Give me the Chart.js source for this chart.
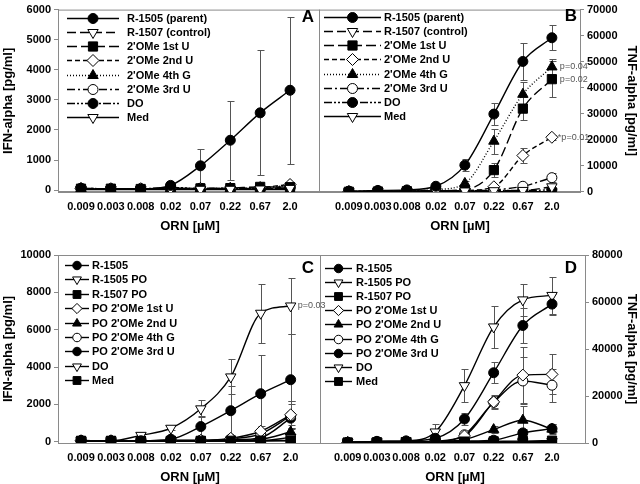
<!DOCTYPE html>
<html>
<head>
<meta charset="utf-8">
<script src="https://cdn.jsdelivr.net/npm/chart.js@4.4.1/dist/chart.umd.min.js"></script>
<style>
  html, body { margin: 0; padding: 0; background: #fff; }
  #wrap { position: relative; width: 640px; height: 484px; }
  #wrap canvas { position: absolute; left: 0; top: 0; }
</style>
</head>
<body>
<div id="wrap">
  <canvas id="chartA" width="640" height="484"></canvas>
  <canvas id="chartB" width="640" height="484"></canvas>
  <canvas id="chartC" width="640" height="484"></canvas>
  <canvas id="chartD" width="640" height="484"></canvas>
</div>
<script>
// ORN doses (x categories)
const doses = ['0.009', '0.003', '0.008', '0.02', '0.07', '0.22', '0.67', '2.0'];

// y tick labels
const ifnTicksTop = [0, 1000, 2000, 3000, 4000, 5000, 6000];
const tnfTicksTop = [0, 10000, 20000, 30000, 40000, 50000, 60000, 70000];
const ifnTicksBottom = [0, 2000, 4000, 6000, 8000, 10000];
const tnfTicksBottom = [0, 20000, 40000, 60000, 80000];

const namesTop = ['R-1505 (parent)', 'R-1507 (control)', "2'OMe 1st U", "2'OMe 2nd U", "2'OMe 4th G", "2'OMe 3rd U", 'DO', 'Med'];
const namesBottom = ['R-1505', 'R-1505 PO', 'R-1507 PO', "PO 2'OMe 1st U", "PO 2'OMe 2nd U", "PO 2'OMe 4th G", "PO 2'OMe 3rd U", 'DO', 'Med'];

// panel A - IFN-alpha [pg/ml]
const aParent   = [60, 40, 40, 160, 810, 1660, 2570, 3320];
const aParentErr = [0, 0, 0, 40, 560, 1310, 2080, 2440];
const aControl  = [40, 30, 30, 40, 30, 30, 40, 60];
const aFirstU   = [50, 50, 40, 60, 60, 70, 110, 100];
const aSecondU  = [60, 50, 50, 60, 60, 60, 90, 190];
const aSecondUErr = [0, 0, 0, 0, 0, 0, 0, 80];
const aFourthG  = [50, 40, 40, 50, 50, 60, 70, 170];
const aFourthGErr = [0, 0, 0, 0, 0, 0, 0, 60];
const aThirdU   = [50, 40, 40, 60, 50, 50, 60, 100];
const aDO       = [60, 50, 50, 90, 60, 60, 60, 60];
const aMed      = [20, 20, 20, 20, 20, 20, 20, 20];

// panel B - TNF-alpha [pg/ml]
const bParent   = [300, 600, 800, 2200, 10300, 29900, 50100, 59200];
const bParentErr = [0, 200, 200, 500, 2400, 4300, 7200, 4800];
const bControl  = [100, 200, 300, 300, 400, 500, 600, 2000];
const bFirstU   = [100, 200, 300, 500, 900, 8400, 32000, 43300];
const bFirstUErr = [0, 0, 0, 0, 300, 2600, 4300, 6800];
const bSecondU  = [100, 200, 300, 400, 600, 2000, 14000, 21000];
const bSecondUErr = [0, 0, 0, 0, 0, 500, 2700, 1000];
const bFourthG  = [100, 300, 400, 900, 3300, 19500, 37500, 48000];
const bFourthGErr = [0, 0, 0, 0, 800, 4800, 4600, 3000];
const bThirdU   = [100, 200, 300, 400, 500, 800, 2200, 5500];
const bThirdUErr = [0, 0, 0, 0, 0, 0, 500, 1800];
const bDO       = [300, 300, 400, 500, 500, 600, 600, 800];
const bMed      = [100, 100, 100, 100, 100, 100, 100, 100];

// panel C - IFN-alpha [pg/ml]
const cParent   = [60, 50, 50, 130, 810, 1660, 2570, 3320];
const cParentErr = [0, 0, 0, 40, 560, 1310, 2080, 2440];
const cParentPO = [60, 50, 340, 720, 1760, 3470, 6880, 7270];
const cParentPOErr = [0, 0, 60, 100, 460, 940, 1570, 1520];
const cControlPO = [40, 40, 40, 40, 40, 50, 60, 60];
const cFirstU   = [50, 50, 50, 60, 70, 180, 560, 1440];
const cFirstUErr = [0, 0, 0, 0, 0, 100, 280, 760];
const cSecondU  = [40, 40, 40, 50, 50, 70, 130, 520];
const cSecondUErr = [0, 0, 0, 0, 0, 0, 0, 200];
const cFourthG  = [50, 50, 50, 60, 70, 150, 420, 1380];
const cFourthGErr = [0, 0, 0, 0, 0, 0, 250, 650];
const cThirdU   = [50, 50, 50, 60, 60, 100, 220, 1260];
const cThirdUErr = [0, 0, 0, 0, 0, 0, 150, 900];
const cDO       = [40, 40, 40, 40, 40, 40, 50, 230];
const cMed      = [40, 40, 40, 40, 40, 40, 40, 50];

// panel D - TNF-alpha [pg/ml]
const dParent   = [300, 700, 900, 2000, 10200, 29900, 50000, 59100];
const dParentErr = [0, 0, 0, 500, 2400, 4400, 7300, 4500];
const dParentPO = [300, 700, 900, 4700, 24400, 49400, 60900, 62800];
const dParentPOErr = [0, 0, 0, 3300, 7100, 8800, 6800, 8000];
const dControlPO = [200, 300, 400, 500, 600, 700, 800, 1000];
const dFirstU   = [200, 300, 500, 800, 3000, 17500, 28900, 29200];
const dFirstUErr = [0, 0, 0, 0, 800, 2500, 12000, 8500];
const dSecondU  = [200, 300, 400, 600, 1500, 5700, 9700, 5900];
const dSecondUErr = [0, 0, 0, 0, 0, 1500, 6000, 2000];
const dFourthG  = [200, 300, 400, 700, 3500, 17300, 26400, 24600];
const dFourthGErr = [0, 0, 0, 0, 1000, 3000, 10000, 7000];
const dThirdU   = [200, 300, 400, 500, 800, 1200, 4300, 6100];
const dThirdUErr = [0, 0, 0, 0, 0, 0, 1500, 2000];
const dDO       = [100, 200, 300, 300, 400, 500, 500, 600];
const dMed      = [100, 100, 100, 100, 100, 100, 100, 100];

const axisColor = '#8a8a8a';
const fontFamily = '"Liberation Sans", Arial, Helvetica, sans-serif';
Chart.defaults.font.family = fontFamily;
Chart.defaults.color = '#000';

// line/marker styles
const stylesTop = [
  { dash: [], point: 'circle', fill: true, r: 5 },
  { dash: [9, 4], point: 'triangle', fill: false, rot: 180, r: 6 },
  { dash: [10, 4], point: 'rect', fill: true, r: 6.5 },
  { dash: [5, 3], point: 'rectRot', fill: false, r: 6 },
  { dash: [1, 2], point: 'triangle', fill: true, r: 6 },
  { dash: [8, 3, 2, 3], point: 'circle', fill: false, r: 5 },
  { dash: [8, 2, 2, 2, 2, 2], point: 'circle', fill: true, r: 5 },
  { dash: [], point: 'triangle', fill: false, rot: 180, r: 6 }
];
const stylesBottom = [
  { dash: [], point: 'circle', fill: true, r: 5 },
  { dash: [], point: 'triangle', fill: false, rot: 180, r: 6 },
  { dash: [], point: 'rect', fill: true, r: 6.5 },
  { dash: [], point: 'rectRot', fill: false, r: 6 },
  { dash: [], point: 'triangle', fill: true, r: 6 },
  { dash: [], point: 'circle', fill: false, r: 5 },
  { dash: [], point: 'circle', fill: true, r: 5 },
  { dash: [], point: 'triangle', fill: false, rot: 180, r: 6 },
  { dash: [], point: 'rect', fill: true, r: 6.5 }
];

// error bars drawn under the lines
const errorBars = {
  id: 'errorBars',
  beforeDatasetsDraw(chart) {
    const { ctx, scales: { x, y } } = chart;
    ctx.save();
    ctx.strokeStyle = '#555';
    ctx.lineWidth = 1;
    chart.data.datasets.forEach(ds => {
      if (!ds.errors) return;
      ds.errors.forEach((e, i) => {
        if (!e) return;
        const v = ds.data[i].y;
        const px = Math.round(x.getPixelForValue(i)) + 0.5;
        const top = Math.round(y.getPixelForValue(v + e)) + 0.5;
        const bot = Math.round(y.getPixelForValue(Math.max(v - e, y.min))) + 0.5;
        ctx.beginPath();
        ctx.moveTo(px, top); ctx.lineTo(px, bot);
        ctx.moveTo(px - 3, top); ctx.lineTo(px + 4, top);
        ctx.moveTo(px - 3, bot); ctx.lineTo(px + 4, bot);
        ctx.stroke();
      });
    });
    ctx.restore();
  }
};

// legend with line sample and marker
const sketchLegend = {
  id: 'sketchLegend',
  afterDraw(chart, args, opts) {
    if (opts.x == null) return;
    const ctx = chart.ctx;
    ctx.save();
    ctx.font = 'bold 11px ' + fontFamily;
    ctx.textBaseline = 'middle';
    chart.data.datasets.forEach((ds, i) => {
      const yy = Math.round(opts.y + i * opts.dy) + 0.5;
      ctx.strokeStyle = '#000';
      ctx.lineWidth = 1.4;
      ctx.setLineDash(ds.borderDash || []);
      ctx.beginPath();
      ctx.moveTo(opts.x, yy);
      ctx.lineTo(opts.x + opts.len, yy);
      ctx.stroke();
      ctx.setLineDash([]);
      ctx.fillStyle = ds.pointBackgroundColor;
      ctx.strokeStyle = '#000';
      ctx.lineWidth = 1;
      Chart.helpers.drawPoint(ctx, {
        pointStyle: ds.pointStyle, rotation: ds.pointRotation,
        radius: ds.pointRadius * opts.scale, borderWidth: 1
      }, opts.x + opts.len / 2, yy);
      ctx.fillStyle = '#000';
      ctx.fillText(ds.label, opts.textX, yy + 0.5);
    });
    ctx.restore();
  }
};

// frame, panel letter, x title, p-values
const notes = {
  id: 'notes',
  afterDraw(chart, args, opts) {
    const { ctx, chartArea: a, scales: { x, y } } = chart;
    ctx.save();
    ctx.strokeStyle = axisColor;
    ctx.lineWidth = 1;
    ctx.strokeRect(a.left + 0.5, a.top + 0.5, a.right - a.left, a.bottom - a.top);
    ctx.fillStyle = '#000';
    ctx.textAlign = 'center';
    ctx.textBaseline = 'middle';
    ctx.font = 'bold 17px ' + fontFamily;
    ctx.fillText(opts.letter, opts.letterX, opts.letterY);
    ctx.font = 'bold 13px ' + fontFamily;
    ctx.fillText('ORN [µM]', opts.titleX, opts.titleY);
    ctx.font = '9px ' + fontFamily;
    ctx.fillStyle = '#555';
    ctx.textAlign = 'left';
    (opts.pvals || []).forEach(p => {
      ctx.fillText(p.text, x.getPixelForValue(p.i) + p.dx, y.getPixelForValue(p.v));
    });
    ctx.restore();
  }
};

function lineStyle(st) {
  return {
    borderColor: '#000', borderWidth: 1.4, borderDash: st.dash,
    pointStyle: st.point, pointRotation: st.rot || 0, pointRadius: st.r,
    pointBackgroundColor: st.fill ? '#000' : '#fff', pointBorderColor: '#000',
    pointBorderWidth: 1, cubicInterpolationMode: 'monotone', fill: false
  };
}

function buildChart(id, p) {
  const yLeft = p.yPos === 'left';
  const yWidth = yLeft ? p.area.left : 640 - p.area.right;
  return new Chart(document.getElementById(id), {
    type: 'line',
    data: {
      datasets: p.series.map((vals, k) => Object.assign({
        label: p.names[k],
        data: vals.map((v, i) => ({ x: i, y: v })),
        errors: p.errors[k]
      }, lineStyle(p.styles[k])))
    },
    options: {
      responsive: false,
      animation: false,
      devicePixelRatio: 1,
      layout: {
        autoPadding: false,
        padding: {
          left: yLeft ? 0 : p.area.left,
          right: yLeft ? 640 - p.area.right : 0,
          top: p.area.top,
          bottom: 484 - p.area.bottom - p.xHeight
        }
      },
      plugins: {
        legend: { display: false },
        tooltip: { enabled: false },
        sketchLegend: p.legend,
        notes: p.notes
      },
      scales: {
        x: {
          type: 'linear', min: p.xMin, max: p.xMax,
          afterBuildTicks: s => { s.ticks = doses.map((_, i) => ({ value: i })); },
          afterFit: s => { s.height = p.xHeight; },
          ticks: { callback: v => doses[v], font: { size: 11, weight: 'bold' }, padding: 8, maxRotation: 0, autoSkip: false },
          grid: { display: false, drawTicks: false },
          border: { color: axisColor }
        },
        y: {
          position: p.yPos, min: p.yMin, max: p.yMax,
          afterBuildTicks: s => { s.ticks = p.yTicks.map(v => ({ value: v })); },
          afterFit: s => { s.width = yWidth; },
          ticks: { callback: v => String(v), font: { size: 11, weight: 'bold' }, padding: 3, autoSkip: false },
          grid: { drawOnChartArea: false, tickLength: 4, color: axisColor },
          border: { color: axisColor },
          title: { display: true, text: p.yTitle, font: { size: 13, weight: 'bold' }, padding: { top: 1, bottom: 0 } }
        }
      }
    },
    plugins: [errorBars, sketchLegend, notes]
  });
}

buildChart('chartA', {
  names: namesTop, styles: stylesTop,
  series: [aParent, aControl, aFirstU, aSecondU, aFourthG, aThirdU, aDO, aMed],
  errors: [aParentErr, null, null, aSecondUErr, aFourthGErr, null, null, null],
  area: { left: 58, top: 5, right: 319, bottom: 192 }, xHeight: 48,
  xMin: -0.77, xMax: 7.97, yMin: -60, yMax: 6000, yTicks: ifnTicksTop,
  yPos: 'left', yTitle: 'IFN-alpha [pg/ml]',
  legend: { x: 67, len: 52, textX: 127, y: 18, dy: 14.15, scale: 1 },
  notes: { letter: 'A', letterX: 308, letterY: 17, titleX: 190, titleY: 226 }
});

buildChart('chartB', {
  names: namesTop, styles: stylesTop,
  series: [bParent, bControl, bFirstU, bSecondU, bFourthG, bThirdU, bDO, bMed],
  errors: [bParentErr, null, bFirstUErr, bSecondUErr, bFourthGErr, bThirdUErr, null, null],
  area: { left: 319, top: 5, right: 580, bottom: 192 }, xHeight: 48,
  xMin: -1.03, xMax: 7.97, yMin: 0, yMax: 70000, yTicks: tnfTicksTop,
  yPos: 'right', yTitle: 'TNF-alpha [pg/ml]',
  legend: { x: 324, len: 57, textX: 384, y: 17, dy: 14.15, scale: 1 },
  notes: {
    letter: 'B', letterX: 571, letterY: 16, titleX: 460, titleY: 226,
    pvals: [
      { text: 'p=0.04', i: 7, v: 48000, dx: 8 },
      { text: 'p=0.02', i: 7, v: 43300, dx: 8 },
      { text: '*p=0.01', i: 7, v: 21000, dx: 6 }
    ]
  }
});

buildChart('chartC', {
  names: namesBottom, styles: stylesBottom,
  series: [cParent, cParentPO, cControlPO, cFirstU, cSecondU, cFourthG, cThirdU, cDO, cMed],
  errors: [cParentErr, cParentPOErr, null, cFirstUErr, cSecondUErr, cFourthGErr, cThirdUErr, null, null],
  area: { left: 58, top: 255, right: 320, bottom: 443 }, xHeight: 41,
  xMin: -0.77, xMax: 7.98, yMin: -70, yMax: 10000, yTicks: ifnTicksBottom,
  yPos: 'left', yTitle: 'IFN-alpha [pg/ml]',
  legend: { x: 65, len: 24, textX: 92, y: 265, dy: 14.4, scale: 0.85 },
  notes: {
    letter: 'C', letterX: 308, letterY: 268, titleX: 190, titleY: 477,
    pvals: [{ text: 'p=0.03', i: 7, v: 7270, dx: 7 }]
  }
});

buildChart('chartD', {
  names: namesBottom, styles: stylesBottom,
  series: [dParent, dParentPO, dControlPO, dFirstU, dSecondU, dFourthG, dThirdU, dDO, dMed],
  errors: [dParentErr, dParentPOErr, null, dFirstUErr, dSecondUErr, dFourthGErr, dThirdUErr, null, null],
  area: { left: 320, top: 255, right: 585, bottom: 443 }, xHeight: 41,
  xMin: -0.95, xMax: 8.13, yMin: 0, yMax: 80000, yTicks: tnfTicksBottom,
  yPos: 'right', yTitle: 'TNF-alpha [pg/ml]',
  legend: { x: 325, len: 27, textX: 356, y: 267.5, dy: 14.2, scale: 0.85 },
  notes: { letter: 'D', letterX: 571, letterY: 268, titleX: 455, titleY: 477 }
});
</script>
</body>
</html>
